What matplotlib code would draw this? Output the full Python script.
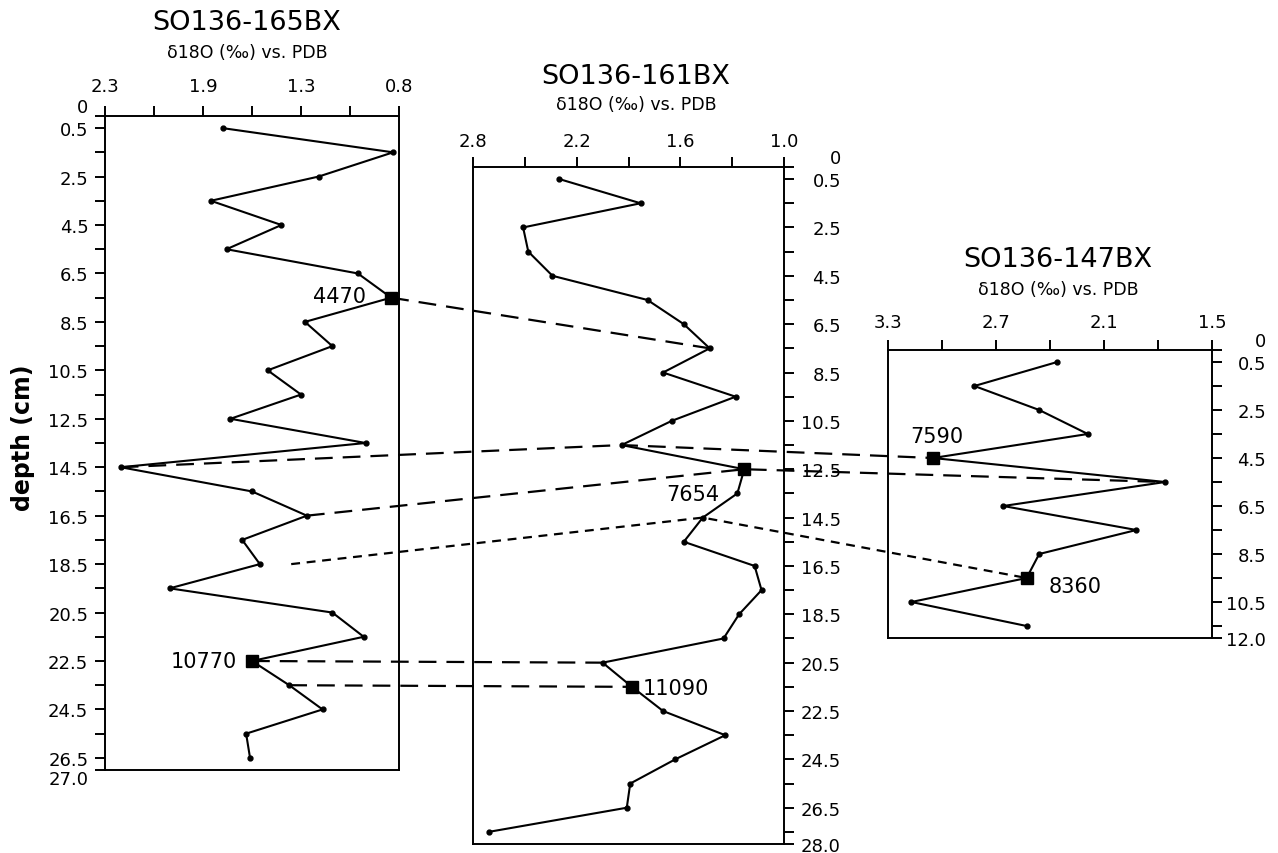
import numpy as np
import matplotlib
matplotlib.use('Agg')
import matplotlib.pyplot as plt
from matplotlib.lines import Line2D

# depth (cm) and d18O (permil vs PDB) of the three box cores
depth_165 = [0.5, 1.5, 2.5, 3.5, 4.5, 5.5, 6.5, 7.5, 8.5, 9.5, 10.5, 11.5, 12.5, 13.5,
             14.5, 15.5, 16.5, 17.5, 18.5, 19.5, 20.5, 21.5, 22.5, 23.5, 24.5, 25.5, 26.5]
d18o_165 = [1.70, 0.83, 1.21, 1.76, 1.40, 1.68, 1.01, 0.84, 1.28, 1.14, 1.47, 1.30, 1.66, 0.97,
            2.22, 1.55, 1.27, 1.60, 1.51, 1.97, 1.14, 0.98, 1.55, 1.36, 1.19, 1.58, 1.56]

depth_161 = [0.5, 1.5, 2.5, 3.5, 4.5, 5.5, 6.5, 7.5, 8.5, 9.5, 10.5, 11.5, 12.5, 13.5,
             14.5, 15.5, 16.5, 17.5, 18.5, 19.5, 20.5, 21.5, 22.5, 23.5, 24.5, 25.5, 26.5, 27.5]
d18o_161 = [2.30, 1.83, 2.51, 2.48, 2.34, 1.79, 1.58, 1.43, 1.70, 1.28, 1.65, 1.94, 1.23, 1.27,
            1.47, 1.58, 1.17, 1.13, 1.26, 1.35, 2.05, 1.88, 1.70, 1.34, 1.63, 1.89, 1.91, 2.71]

depth_147 = [0.5, 1.5, 2.5, 3.5, 4.5, 5.5, 6.5, 7.5, 8.5, 9.5, 10.5, 11.5]
d18o_147 = [2.36, 2.82, 2.46, 2.19, 3.05, 1.76, 2.66, 1.92, 2.46, 2.53, 3.17, 2.53]

# radiocarbon dated levels: depth, age label
dated_165 = [(7.5, '4470'), (22.5, '10770')]
dated_161 = [(12.5, '7654'), (21.5, '11090')]
dated_147 = [(4.5, '7590'), (9.5, '8360')]

# x axis tick labels (as printed on the original figure)
xlabels_165 = ['2.3', '', '1.9', '', '1.3', '', '0.8']
xlabels_161 = ['2.8', '', '2.2', '', '1.6', '', '1.0']
xlabels_147 = ['3.3', '', '2.7', '', '2.1', '', '1.5']

W, H = 1278, 854
fig = plt.figure(figsize=(W / 100, H / 100), dpi=100)
fig.patch.set_facecolor('white')


def px_axes(left, top, right, bottom):
    return fig.add_axes([left / W, 1 - bottom / H, (right - left) / W, (bottom - top) / H])


def val(depths, vals, d):
    return vals[depths.index(d)]


def setup(ax, xlim, xlabels, ymax, side, ypad, xpad):
    ax.set_xlim(*xlim)
    ax.set_ylim(ymax, 0)
    ax.set_xticks(np.linspace(xlim[0], xlim[1], 7))
    ax.set_xticklabels(xlabels)
    ax.xaxis.tick_top()
    yt = [0] + list(np.arange(0.5, ymax, 1.0)) + [ymax]
    yl = []
    for t in yt:
        if t == 0:
            yl.append('0')
        elif t == ymax:
            yl.append('%.1f' % ymax)
        elif (t - 0.5) % 2 == 0:
            yl.append('%.1f' % t)
        else:
            yl.append('')
    ax.set_yticks(yt)
    ax.set_yticklabels(yl)
    if side == 'right':
        ax.yaxis.tick_right()
    for s in ax.spines.values():
        s.set_linewidth(1.4)
    ax.tick_params(axis='both', direction='out', length=7, width=1.4, labelsize=13)
    ax.tick_params(axis='x', pad=xpad)
    ax.tick_params(axis='y', pad=ypad)
    labs = ax.get_yticklabels()
    if side == 'right':
        for lab in labs:
            lab.set_ha('right')
    labs[0].set_va('bottom')


def draw_core(ax, depths, vals, dated):
    ax.plot(vals, depths, color='k', lw=1.5, marker='o', ms=3.5, clip_on=False, zorder=3)
    for d, _ in dated:
        ax.plot(val(depths, vals, d), d, 's', color='k', ms=9, clip_on=False, zorder=4)


ax1 = px_axes(105, 117, 399, 771)
ax2 = px_axes(473, 168, 784, 845)
ax3 = px_axes(888, 351, 1212, 639)

setup(ax1, (2.3, 0.8), xlabels_165, 27.0, 'left', 5, 8)
setup(ax2, (2.8, 1.0), xlabels_161, 28.0, 'right', 34, 5)
setup(ax3, (3.3, 1.5), xlabels_147, 12.0, 'right', 32, 7)
ax1.get_yticklabels()[-1].set_va('top')

draw_core(ax1, depth_165, d18o_165, dated_165)
draw_core(ax2, depth_161, d18o_161, dated_161)
draw_core(ax3, depth_147, d18o_147, dated_147)

# age labels
label_offsets = {'4470': (-18, 1, 'right'), '10770': (-11, 0, 'right'),
                 '7654': (-37, -18, 'center'), '11090': (8, -1, 'left'),
                 '7590': (3, 16, 'center'), '8360': (16, -6, 'left')}
for ax, depths, vals, dated in [(ax1, depth_165, d18o_165, dated_165),
                                (ax2, depth_161, d18o_161, dated_161),
                                (ax3, depth_147, d18o_147, dated_147)]:
    for d, lab in dated:
        dx, dy, ha = label_offsets[lab]
        ax.annotate(lab, (val(depths, vals, d), d), xytext=(dx, dy),
                    textcoords='offset points', ha=ha, va='center', fontsize=15)

# titles
for cx, ty, sy, name in [(247, 23, 53, 'SO136-165BX'), (636, 77, 105, 'SO136-161BX'),
                         (1058, 260, 290, 'SO136-147BX')]:
    fig.text(cx / W, 1 - ty / H, name, ha='center', va='center', fontsize=19.5)
    fig.text(cx / W, 1 - sy / H, 'δ18O (‰) vs. PDB', ha='center', va='center', fontsize=12.5)

fig.text(23 / W, 1 - 438 / H, 'depth (cm)', rotation=90, ha='center', va='center',
         fontsize=17, fontweight='bold')


# correlation lines between cores
def fig_xy(ax, x, y):
    return fig.transFigure.inverted().transform(ax.transData.transform((x, y)))


def connect(points, dashes):
    pts = np.array([fig_xy(a, x, y) for a, x, y in points])
    fig.add_artist(Line2D(pts[:, 0], pts[:, 1], transform=fig.transFigure, color='k',
                          lw=1.6, dashes=dashes, zorder=5))


long_dash = (8, 4.5)
short_dash = (4, 3)
start_185 = 1.35  # start of dotted line in SO136-165BX at 18.5 cm

connect([(ax1, val(depth_165, d18o_165, 7.5), 7.5),
         (ax2, val(depth_161, d18o_161, 7.5), 7.5)], long_dash)
connect([(ax1, val(depth_165, d18o_165, 14.5), 14.5),
         (ax2, val(depth_161, d18o_161, 11.5), 11.5),
         (ax3, val(depth_147, d18o_147, 4.5), 4.5)], long_dash)
connect([(ax1, val(depth_165, d18o_165, 16.5), 16.5),
         (ax2, val(depth_161, d18o_161, 12.5), 12.5),
         (ax3, val(depth_147, d18o_147, 5.5), 5.5)], long_dash)
connect([(ax1, start_185, 18.5),
         (ax2, val(depth_161, d18o_161, 14.5), 14.5),
         (ax3, val(depth_147, d18o_147, 9.5), 9.5)], short_dash)
connect([(ax1, val(depth_165, d18o_165, 22.5), 22.5),
         (ax2, val(depth_161, d18o_161, 20.5), 20.5)], long_dash)
connect([(ax1, val(depth_165, d18o_165, 23.5), 23.5),
         (ax2, val(depth_161, d18o_161, 21.5), 21.5)], long_dash)

fig.savefig('out.png', dpi=100, facecolor='white')
